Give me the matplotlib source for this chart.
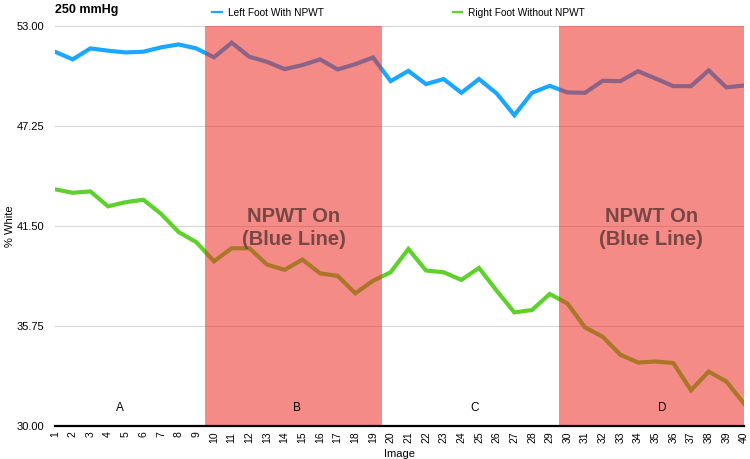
import matplotlib
matplotlib.use("Agg")
import matplotlib.pyplot as plt
import numpy as np

plt.rcParams["font.family"] = ["Liberation Sans", "DejaVu Sans"]

images = list(range(1, 41))
left_foot = [51.52, 51.08, 51.71, 51.58, 51.48, 51.52, 51.77, 51.94, 51.71, 51.20,
             52.04, 51.23, 50.94, 50.52, 50.75, 51.08, 50.50, 50.81, 51.19, 49.83,
             50.42, 49.66, 49.95, 49.16, 49.95, 49.12, 47.87, 49.16, 49.56, 49.18,
             49.16, 49.85, 49.83, 50.40, 49.98, 49.54, 49.54, 50.45, 49.47, 49.58]
right_foot = [43.61, 43.41, 43.49, 42.63, 42.87, 43.01, 42.20, 41.15, 40.57, 39.47,
              40.22, 40.22, 39.28, 38.98, 39.57, 38.78, 38.63, 37.63, 38.35, 38.84,
              40.18, 38.94, 38.84, 38.40, 39.09, 37.78, 36.53, 36.67, 37.59, 37.05,
              35.67, 35.13, 34.10, 33.65, 33.71, 33.62, 32.06, 33.13, 32.56, 31.29]
npwt_zones = [(9.5, 19.5), (29.5, 40)]
phase_labels = ["A", "B", "C", "D"]
phase_x = [4.65, 14.7, 24.75, 35.4]
y_ticks = [30.00, 35.75, 41.50, 47.25, 53.00]

fig = plt.figure(figsize=(7.5, 4.59), dpi=100)
ax = fig.add_axes([55 / 750, 33 / 459, 689 / 750, 400 / 459])

ax.plot(images, left_foot, color="#1aa7ff", linewidth=3, solid_joinstyle="miter",
        label="Left Foot With NPWT", zorder=2)
ax.plot(images, right_foot, color="#5fd12c", linewidth=3, solid_joinstyle="miter",
        label="Right Foot Without NPWT", zorder=2)

# red overlay on top of the lines
for x0, x1 in npwt_zones:
    ax.axvspan(x0, x1, color="#eb2c25", alpha=0.55, linewidth=0, zorder=3)
    ax.text((x0 + x1) / 2, 41.39, "NPWT On\n(Blue Line)", ha="center", va="center",
            fontsize=14.5, fontweight="bold", color="#784644", linespacing=1.25, zorder=4)

for lab, x in zip(phase_labels, phase_x):
    ax.text(x, 31.05, lab, ha="center", va="center", fontsize=8.5, zorder=4)

ax.set_xlim(1, 40)
ax.set_ylim(30, 53)
ax.set_yticks(y_ticks)
ax.set_yticklabels([f"{v:.2f}" for v in y_ticks], fontsize=8)
ax.set_xticks(images)
ax.set_xticklabels([str(i) for i in images], rotation=90, fontsize=7.5)
ax.tick_params(axis="x", length=0, pad=4)
ax.tick_params(axis="y", length=0, pad=8)
ax.grid(axis="y", color="#d6d6d6", linewidth=0.8, zorder=0)
ax.set_axisbelow(True)
for s in ["top", "right", "left"]:
    ax.spines[s].set_visible(False)
ax.spines["bottom"].set_linewidth(1.6)
ax.spines["bottom"].set_zorder(5)

ax.set_xlabel("Image", fontsize=8, labelpad=4)
ax.set_ylabel("% White", fontsize=8, labelpad=1)

fig.text(55 / 750, 1 - 9.5 / 459, "250 mmHg", fontsize=9, fontweight="bold", va="center")
leg = fig.legend(loc="center", bbox_to_anchor=(398.5 / 750, 1 - 13 / 459), ncol=2,
                 frameon=False, fontsize=7.25, handlelength=0.95, handletextpad=0.6,
                 columnspacing=12.8, borderaxespad=0, borderpad=0)
for h in leg.legend_handles:
    h.set_linewidth(1.6)

plt.savefig("out.png", dpi=100)
